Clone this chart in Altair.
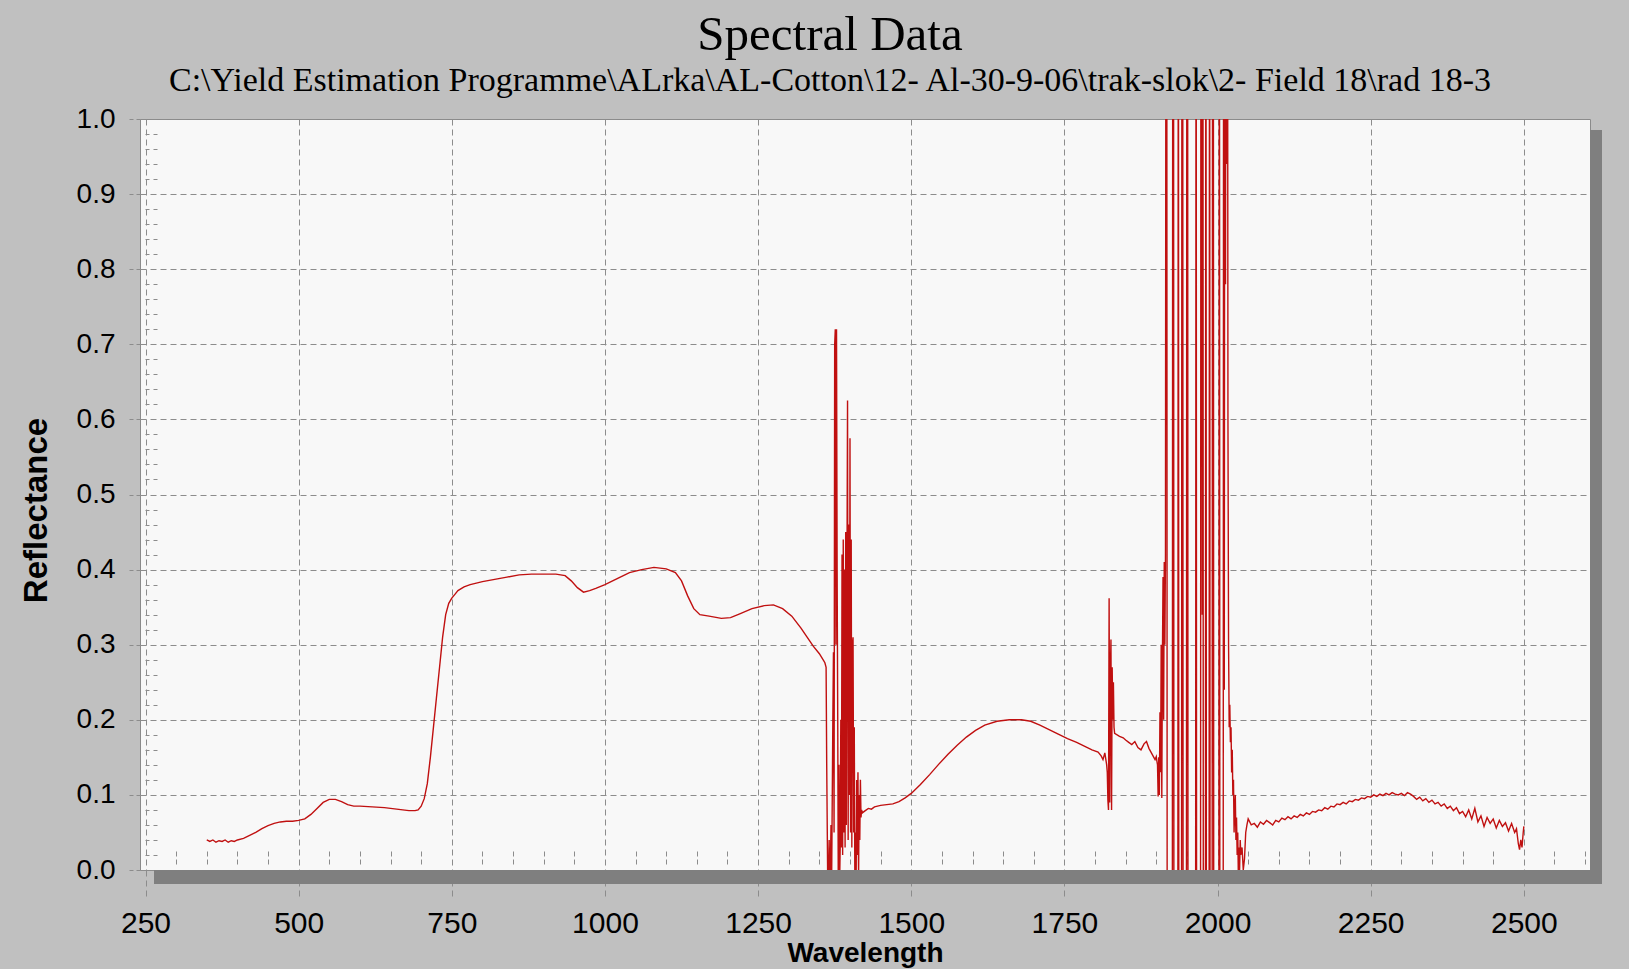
import altair as alt
import pandas as pd

# ---------------- data ----------------
vis_wl = [350, 355, 360, 365, 370, 375, 380, 385, 390, 395, 400, 410, 420, 430, 440, 450, 460, 470, 480, 490,
          500, 510, 520, 530, 540, 550, 560, 570, 580, 590, 600, 620, 640, 660, 680, 690, 695, 700, 705, 710,
          715, 720, 725, 730, 735, 740, 745, 750, 755, 760, 770, 780, 790, 800, 820, 840, 860, 880, 900, 920,
          935, 945, 955, 965, 975, 985, 1000, 1020, 1040, 1060, 1080, 1100, 1115, 1125, 1135, 1145, 1155,
          1170, 1190, 1205, 1220, 1240, 1260, 1275, 1290, 1305, 1320, 1330, 1340, 1350, 1356, 1359]
vis_r = [0.040, 0.038, 0.040, 0.037, 0.039, 0.038, 0.040, 0.037, 0.039, 0.038, 0.040,
         0.042, 0.046, 0.050, 0.055, 0.059, 0.062, 0.064, 0.065, 0.065, 0.066,
         0.068, 0.074, 0.082, 0.090, 0.094, 0.094, 0.091, 0.087, 0.085, 0.085,
         0.084, 0.083, 0.081, 0.079, 0.079, 0.080,
         0.085, 0.095, 0.115, 0.150, 0.190, 0.230, 0.270, 0.310, 0.340, 0.355, 0.362, 0.367, 0.372,
         0.377, 0.380, 0.382, 0.384, 0.387, 0.390, 0.393, 0.394, 0.394, 0.394,
         0.392, 0.385, 0.376, 0.370, 0.372, 0.375, 0.380, 0.388, 0.396, 0.400, 0.403, 0.401,
         0.396, 0.385, 0.365, 0.348, 0.340,
         0.338, 0.335, 0.336, 0.341, 0.348, 0.352, 0.353, 0.348, 0.338, 0.322, 0.310, 0.298, 0.288, 0.280, 0.276]

water1_wl = [1361, 1362, 1364, 1366, 1367, 1369, 1370, 1372, 1373, 1374, 1375, 1376, 1377, 1378, 1379, 1380,
             1381, 1382, 1383, 1384, 1385, 1386, 1387, 1388, 1389, 1390, 1391, 1392, 1393, 1394, 1395, 1396,
             1397, 1398, 1399, 1400, 1401, 1402, 1403, 1404, 1405, 1406, 1407, 1408, 1409, 1410, 1411, 1412,
             1413, 1414, 1415, 1416, 1417, 1418, 1419]
water1_r = [0.270, 0.140, -0.05, 0.04, -0.05, 0.06, -0.02,
            0.20, 0.29, 0.05, 0.70, 0.72, 0.30, 0.72, 0.40, 0.20, -0.05, 0.14, -0.02, 0.03, 0.20, 0.03,
            0.42, 0.02, 0.44, 0.05, 0.40, 0.03, 0.45, 0.06, 0.38, 0.625, 0.04, 0.46, 0.10, 0.575, 0.05,
            0.44, 0.03, 0.30, 0.31, 0.05, 0.19, -0.03, 0.05, -0.02, 0.12, 0.02, 0.13, -0.01, 0.10, 0.04,
            0.12, 0.07, 0.08]

swir1_wl = [1420, 1425, 1430, 1435, 1440, 1450, 1460, 1470, 1480, 1490, 1500, 1515, 1530, 1545, 1560, 1575,
            1590, 1605, 1620, 1640, 1660, 1680, 1695, 1710, 1725, 1740, 1755, 1770, 1785, 1795, 1805, 1810,
            1813, 1816, 1819, 1820, 1821, 1822, 1823, 1824, 1825, 1826, 1827, 1828, 1829, 1830, 1831, 1832,
            1840, 1846, 1850, 1855, 1860, 1865, 1870, 1875, 1880, 1884, 1888, 1892, 1896, 1898]
swir1_r = [0.076, 0.079, 0.082, 0.081, 0.084, 0.086, 0.087, 0.088, 0.091, 0.096, 0.102,
           0.114, 0.127, 0.141, 0.154, 0.166, 0.177, 0.186, 0.193, 0.198, 0.200, 0.200,
           0.198, 0.193, 0.187, 0.181, 0.175, 0.170, 0.164, 0.160, 0.157, 0.152, 0.147, 0.156, 0.140,
           0.130, 0.093, 0.080, 0.362, 0.090, 0.260, 0.307, 0.080, 0.270, 0.200, 0.250, 0.190, 0.182,
           0.178, 0.176, 0.173, 0.170, 0.167, 0.171, 0.163, 0.160, 0.168, 0.171, 0.162, 0.156, 0.150, 0.147]

water2_wl = [1900, 1901, 1902, 1903, 1904, 1905, 1906, 1907, 1908, 1909, 1910, 1911, 1912, 1913, 1914, 1915,
             1916, 1917, 1918, 1926, 1927, 1928, 1929, 1935, 1936, 1937, 1941, 1942, 1943, 1944, 1949, 1950,
             1951, 1952, 1964, 1965, 1966, 1972, 1973, 1974, 1975, 1976, 1977, 1980, 1981, 1982, 1986, 1987,
             1988, 1991, 1992, 1993, 1994, 2002, 2003, 2004, 2009, 2010, 2011, 2012, 2013, 2014, 2015, 2016,
             2017, 2018, 2019, 2020, 2021, 2022, 2023, 2024, 2025, 2026, 2027, 2028, 2029, 2030, 2031, 2032,
             2033, 2034, 2035, 2036, 2037, 2038, 2040, 2042, 2044, 2046, 2048]
water2_r = [0.151, 0.145, 0.140, 0.098, 0.150, 0.100, 0.210, 0.130, 0.300, 0.096, 0.280, 0.390, 0.200, 0.410,
            0.300, 0.420, 1.6, 1.6, -0.6, -0.6, 1.6, 1.6, -0.6, -0.6, 1.6, -0.6, -0.6, 1.6, 1.6, -0.6,
            -0.6, 1.6, 1.6, -0.6, -0.6, 1.6, -0.6, -0.6, 1.6, 1.6, 0.34, 1.6, -0.6, -0.6, 1.6, -0.6,
            -0.6, 1.6, -0.6, -0.6, 1.6, 1.6, -0.6, -0.6, 1.6, -0.6,
            -0.6, 1.6, 0.24, 1.6, 0.78, 1.6, 0.94, 1.6, 0.60, 0.30, 0.19, 0.22, 0.17, 0.19, 0.13, 0.16,
            0.10, 0.12, 0.05, 0.08, 0.10, 0.04, 0.07, 0.02, 0.05, -0.01, 0.03, 0.00, 0.04, 0.02,
            0.03, 0.00, 0.015, 0.05, 0.06]

swir2_wl = list(range(2050, 2490, 5)) + [2488, 2491, 2493, 2495, 2497, 2499, 2500]
swir2_r = [0.068, 0.060, 0.062, 0.057, 0.064, 0.061, 0.066, 0.063, 0.060, 0.066,
           0.064, 0.069, 0.067, 0.071, 0.068, 0.072, 0.070, 0.074, 0.072, 0.076,
           0.074, 0.078, 0.077, 0.080, 0.079, 0.083, 0.081, 0.085, 0.084, 0.088,
           0.087, 0.090, 0.088, 0.092, 0.091, 0.094, 0.093, 0.096, 0.095, 0.098,
           0.097, 0.100, 0.098, 0.101, 0.099, 0.102, 0.100, 0.103, 0.101, 0.100,
           0.102, 0.099, 0.103, 0.101, 0.098, 0.094, 0.097, 0.092, 0.095, 0.090,
           0.093, 0.088, 0.090, 0.085, 0.088, 0.082, 0.085, 0.079, 0.083, 0.075,
           0.078, 0.071, 0.080, 0.068, 0.082, 0.064, 0.072, 0.058, 0.070, 0.062,
           0.068, 0.056, 0.066, 0.058, 0.063, 0.052, 0.062, 0.050,
           0.055, 0.035, 0.027, 0.040, 0.030, 0.050, 0.058]

x_major = [250, 500, 750, 1000, 1250, 1500, 1750, 2000, 2250, 2500]
x_minor = [300, 350, 400, 450, 550, 600, 650, 700, 800, 850, 900, 950, 1050, 1100, 1150, 1200,
           1300, 1350, 1400, 1450, 1550, 1600, 1650, 1700, 1800, 1850, 1900, 1950, 2050, 2100,
           2150, 2200, 2300, 2350, 2400, 2450, 2550, 2600]
y_major = [0.0, 0.1, 0.2, 0.3, 0.4, 0.5, 0.6, 0.7, 0.8, 0.9, 1.0]
y_minor = [0.02, 0.04, 0.06, 0.08, 0.12, 0.14, 0.16, 0.18, 0.22, 0.24, 0.26, 0.28, 0.32, 0.34, 0.36,
           0.38, 0.42, 0.44, 0.46, 0.48, 0.52, 0.54, 0.56, 0.58, 0.62, 0.64, 0.66, 0.68, 0.72, 0.74,
           0.76, 0.78, 0.82, 0.84, 0.86, 0.88, 0.92, 0.94, 0.96, 0.98]

title_text = "Spectral Data"
subtitle_text = r"C:\Yield Estimation Programme\ALrka\AL-Cotton\12- Al-30-9-06\trak-slok\2- Field 18\rad 18-3"

# ---------------- build ----------------
segments = [(vis_wl, vis_r), (water1_wl, water1_r), (swir1_wl, swir1_r), (water2_wl, water2_r), (swir2_wl, swir2_r)]
df = pd.concat([pd.DataFrame({"wl": w, "r": r}) for w, r in segments], ignore_index=True)

W, H = 1450, 751
SANS = "Liberation Sans"
SERIF = "Liberation Serif"
GRID = "#8c8c8c"

x_scale = alt.Scale(domain=[241, 2608], nice=False, zero=False)
y_scale = alt.Scale(domain=[0, 1], nice=False, zero=False)

line = alt.Chart(df).mark_line(color="#c01010", strokeWidth=1.4, clip=True).encode(
    x=alt.X("wl:Q", scale=x_scale, axis=alt.Axis(
        values=x_major, format="d", orient="bottom", grid=True, gridColor=GRID, gridDash=[6, 4],
        gridWidth=1, domain=False, tickSize=30, tickColor=GRID, tickDash=[6, 4], tickWidth=1,
        labelFont=SANS, labelFontSize=30, labelColor="#000000", labelPadding=8,
        labelOverlap=False, labelFlush=False,
        title="Wavelength", titleFont=SANS, titleFontSize=28, titleFontWeight="bold",
        titleColor="#000000", titleBaseline="top", titleY=69)),
    y=alt.Y("r:Q", scale=y_scale, axis=alt.Axis(
        values=y_major, format=".1f", orient="left", grid=True, gridColor=GRID, gridDash=[6, 4],
        gridWidth=1, domain=False, tickSize=12, tickColor=GRID, tickDash=[4, 3], tickWidth=1,
        labelFont=SANS, labelFontSize=28, labelColor="#000000", labelPadding=13,
        labelOverlap=False, labelFlush=False,
        title="Reflectance", titleFont=SANS, titleFontSize=33, titleFontWeight="bold",
        titleColor="#000000", titleAngle=270, titleAlign="center", titleBaseline="middle",
        titleX=-104, titleY=391)),
)

minor = alt.Chart(df).mark_line(strokeOpacity=0, clip=True).encode(
    x=alt.X("wl:Q", scale=x_scale, axis=alt.Axis(
        values=x_minor, orient="bottom", offset=-19, tickSize=15, tickColor=GRID, tickDash=[5, 3],
        tickWidth=1, labels=False, grid=False, domain=False, title=None)),
    y=alt.Y("r:Q", scale=y_scale, axis=alt.Axis(
        values=y_minor, orient="left", offset=-17, tickSize=14, tickColor=GRID, tickDash=[4, 4],
        tickWidth=1, labels=False, grid=False, domain=False, title=None)),
)

one = pd.DataFrame({"k": [0]})
shadow_bottom = alt.Chart(one).mark_rect(color="#7f7f7f").encode(
    x=alt.value(14), x2=alt.value(W + 12), y=alt.value(H), y2=alt.value(H + 14))
shadow_right = alt.Chart(one).mark_rect(color="#7f7f7f").encode(
    x=alt.value(W), x2=alt.value(W + 12), y=alt.value(11), y2=alt.value(H + 14))

chart = alt.layer(line, minor, shadow_bottom, shadow_right).resolve_axis(
    x="independent", y="independent"
).properties(
    width=W, height=H,
    title=alt.TitleParams(
        text=title_text, subtitle=subtitle_text, font=SERIF, fontSize=49, fontWeight="normal",
        color="#000000", subtitleFont=SERIF, subtitleFontSize=34, subtitleColor="#000000",
        subtitlePadding=4, anchor="middle", frame="group", dx=-35, offset=7),
    background="#c0c0c0",
    padding={"left": 140, "top": 119, "right": 39, "bottom": 99},
    autosize=alt.AutoSizeParams(type="none"),
).configure_view(fill="#f8f8f8", stroke="#8a8a8a", strokeWidth=1)

chart.save("out.html", embed_options={"renderer": "svg", "actions": False})
